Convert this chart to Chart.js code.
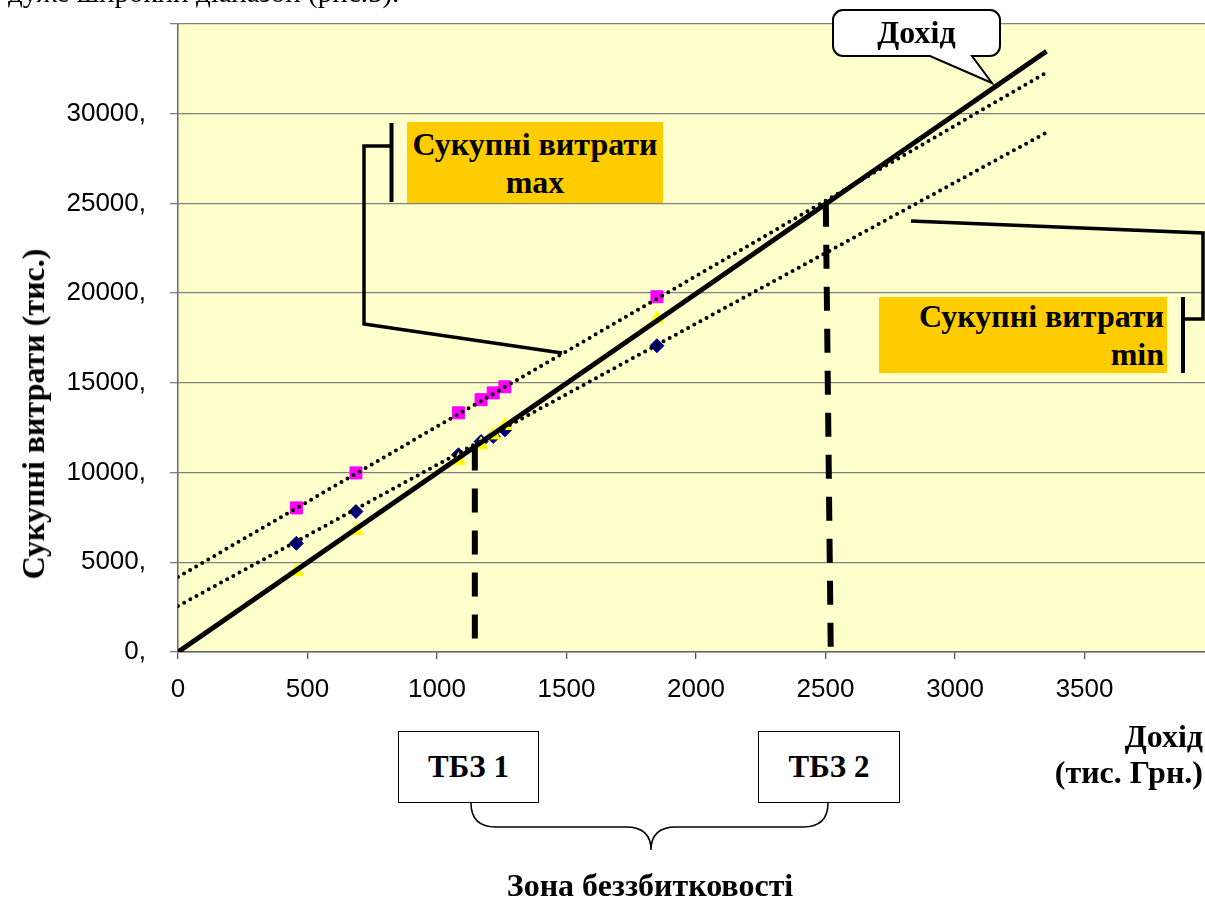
<!DOCTYPE html>
<html>
<head>
<meta charset="utf-8">
<script src="https://cdn.jsdelivr.net/npm/chart.js@4.4.1/dist/chart.umd.min.js"></script>
<style>
  html, body { margin: 0; padding: 0; background: #fff; overflow: hidden; }
  #wrap { position: relative; width: 1205px; height: 902px; }
  #chart { position: absolute; left: 0; top: 0; }
  .t { position: absolute; font-family: "Liberation Serif", "Times New Roman", serif; font-weight: bold; font-size: 32px; color: #000; white-space: nowrap; line-height: 38px; }
  .box { position: absolute; background: #FFCC00; display: flex; flex-direction: column; justify-content: center; }
  .tbz { position: absolute; background: #fff; border: 1.5px solid #000; box-sizing: border-box; display: flex; align-items: center; justify-content: center; }
</style>
</head>
<body>
<div id="wrap">
  <canvas id="chart" width="1205" height="902"></canvas>

  <div class="t" style="left:8px; top:-27px; font-weight:normal; font-size:29px;">дуже широкий діапазон (рис.5).</div>

  <div class="t" style="left:833px; top:13px; width:167px; text-align:center;">Дохід</div>

  <div class="box t" style="left:407px; top:122px; width:256px; height:81px; text-align:center;">
    <div>Сукупні витрати</div><div>max</div>
  </div>
  <div class="box t" style="left:879px; top:297px; width:288px; height:76px; text-align:right;">
    <div style="padding-right:3px;">Сукупні витрати</div><div style="padding-right:3px;">min</div>
  </div>

  <div class="tbz t" style="left:398px; top:731px; width:141px; height:72px; font-size:31px;">ТБЗ 1</div>
  <div class="tbz t" style="left:758px; top:731px; width:142px; height:72px; font-size:31px;">ТБЗ 2</div>

  <div class="t" style="left:650px; top:866px; transform:translateX(-50%);">Зона беззбитковості</div>

  <div class="t" style="right:2px; top:718px; text-align:right; line-height:36px;">Дохід<br>(тис. Грн.)</div>

  <div class="t" style="left:33px; top:414px; transform:translate(-50%,-50%) rotate(-90deg);">Сукупні витрати (тис.)</div>
</div>

<script>
// Дохід (тис. грн) for the observed periods
const revenueX = [457, 687, 1083, 1170, 1217, 1262, 1849];
// total costs, max variant (magenta squares)
const costMax = [8030, 9980, 13330, 14060, 14440, 14780, 19800];
// total costs, min variant (navy diamonds)
const costMin = [6060, 7830, 10990, 11730, 12010, 12380, 17070];
// revenue points (yellow triangles)
const revenueY = [4480, 6770, 10670, 11545, 12100, 12620, 18560];

// line "Дохід"
const incomeLineX = [0, 3353];
const incomeLineY = [0, 33480];
// trend lines of costs
const trendMaxX = [0, 3353];
const trendMaxY = [4180, 32300];
const trendMinX = [0, 3353];
const trendMinY = [2560, 28950];
// break-even points (ТБЗ 1, ТБЗ 2) vertical marks
const tbz1X = [1146, 1146];
const tbz1Y = [11450, 700];
const tbz2X = [2501, 2520];
const tbz2Y = [25040, 220];

const xTicks = [0, 500, 1000, 1500, 2000, 2500, 3000, 3500];
const yTicks = [0, 5000, 10000, 15000, 20000, 25000, 30000];

const pts = (xs, ys) => xs.map((x, i) => ({ x: x, y: ys[i] }));

const plotBg = {
  id: 'plotBg',
  beforeDraw(c) {
    const { ctx, chartArea: a } = c;
    ctx.save();
    ctx.fillStyle = '#FFFFCC';
    ctx.fillRect(a.left, a.top, a.right - a.left, a.bottom - a.top);
    ctx.restore();
  }
};

// callouts: brackets, speech bubble, brace
const callouts = {
  id: 'callouts',
  afterDraw(c) {
    const ctx = c.ctx;
    ctx.save();
    ctx.strokeStyle = '#000';
    ctx.lineJoin = 'miter';

    // bracket for max costs
    ctx.lineWidth = 4;
    ctx.beginPath(); ctx.moveTo(391.5, 123); ctx.lineTo(391.5, 202); ctx.stroke();
    ctx.lineWidth = 3.5;
    ctx.beginPath();
    ctx.moveTo(391, 146); ctx.lineTo(364, 146); ctx.lineTo(364, 324); ctx.lineTo(562, 353);
    ctx.stroke();

    // bracket for min costs
    ctx.lineWidth = 4;
    ctx.beginPath(); ctx.moveTo(1183, 297); ctx.lineTo(1183, 373); ctx.stroke();
    ctx.lineWidth = 3.5;
    ctx.beginPath();
    ctx.moveTo(1183, 319); ctx.lineTo(1203, 319); ctx.lineTo(1203, 233); ctx.lineTo(911, 221);
    ctx.stroke();

    // speech bubble "Дохід"
    const l = 833, r = 1000, t = 10, b = 56, rad = 10;
    ctx.beginPath();
    ctx.moveTo(l + rad, t);
    ctx.lineTo(r - rad, t);
    ctx.arcTo(r, t, r, t + rad, rad);
    ctx.lineTo(r, b - rad);
    ctx.arcTo(r, b, r - rad, b, rad);
    ctx.lineTo(972, b);
    ctx.lineTo(992, 83);
    ctx.lineTo(930, b);
    ctx.lineTo(l + rad, b);
    ctx.arcTo(l, b, l, b - rad, rad);
    ctx.lineTo(l, t + rad);
    ctx.arcTo(l, t, l + rad, t, rad);
    ctx.closePath();
    ctx.fillStyle = '#fff';
    ctx.fill();
    ctx.lineWidth = 2;
    ctx.stroke();

    // brace under ТБЗ boxes
    ctx.lineWidth = 1.5;
    ctx.beginPath();
    ctx.moveTo(471, 803);
    ctx.quadraticCurveTo(471, 827, 496, 827);
    ctx.lineTo(626, 827);
    ctx.quadraticCurveTo(651, 827, 651, 850);
    ctx.quadraticCurveTo(651, 827, 676, 827);
    ctx.lineTo(803, 827);
    ctx.quadraticCurveTo(828, 827, 828, 803);
    ctx.stroke();
    ctx.restore();
  }
};

const dotted = {
  showLine: true, pointRadius: 0, borderColor: '#000', borderWidth: 4,
  borderDash: [0, 7], borderCapStyle: 'round', order: 1
};
const dashed = {
  showLine: true, pointRadius: 0, borderColor: '#000', borderWidth: 6,
  borderDash: [24, 18], borderCapStyle: 'butt', order: 3
};

new Chart(document.getElementById('chart'), {
  type: 'scatter',
  data: {
    datasets: [
      Object.assign({ label: 'Тренд max', data: pts(trendMaxX, trendMaxY) }, dotted),
      Object.assign({ label: 'Тренд min', data: pts(trendMinX, trendMinY) }, dotted),
      { label: 'Дохід', data: pts(incomeLineX, incomeLineY), showLine: true, pointRadius: 0,
        borderColor: '#000', borderWidth: 5, order: 2 },
      Object.assign({ label: 'ТБЗ 1', data: pts(tbz1X, tbz1Y) }, dashed),
      Object.assign({ label: 'ТБЗ 2', data: pts(tbz2X, tbz2Y) }, dashed),
      { label: 'Дохід (точки)', data: pts(revenueX, revenueY), pointStyle: 'triangle', pointRadius: 8,
        backgroundColor: '#FFFF00', borderColor: '#FFFF00', borderWidth: 1, order: 4 },
      { label: 'Сукупні витрати min', data: pts(revenueX, costMin), pointStyle: 'rectRot', pointRadius: 7,
        backgroundColor: '#000080', borderColor: '#000080', borderWidth: 1, order: 5 },
      { label: 'Сукупні витрати max', data: pts(revenueX, costMax), pointStyle: 'rect', pointRadius: 8.5,
        backgroundColor: '#FF00FF', borderColor: '#FF00FF', borderWidth: 1, order: 6 }
    ]
  },
  options: {
    responsive: false,
    animation: false,
    layout: { padding: { top: 24, right: 0, bottom: 0, left: 0 }, autoPadding: false },
    plugins: { legend: { display: false }, tooltip: { enabled: false } },
    scales: {
      x: {
        type: 'linear', min: 0, max: 3965,
        afterBuildTicks: s => { s.ticks = xTicks.map(v => ({ value: v })); },
        afterFit: s => { s.height = 250; s.paddingLeft = 0; s.paddingRight = 0; },
        ticks: { color: '#000', padding: 15, maxRotation: 0,
          font: { family: 'Liberation Sans', size: 26 }, callback: v => String(v) },
        grid: { drawOnChartArea: false, drawTicks: true, tickLength: 7, color: '#555', lineWidth: 1.3 },
        border: { color: '#666', width: 1.5 }
      },
      y: {
        type: 'linear', min: 0, max: 35000,
        afterBuildTicks: s => { s.ticks = yTicks.concat([35000]).map(v => ({ value: v })); },
        afterFit: s => { s.width = 178; s.paddingTop = 0; s.paddingBottom = 0; },
        ticks: { color: '#000', padding: 24,
          font: { family: 'Liberation Sans', size: 26 },
          callback: v => (yTicks.includes(v) ? v + ',' : '') },
        grid: { color: '#808080', lineWidth: 1.3, tickLength: 8 },
        border: { color: '#666', width: 1.5 }
      }
    }
  },
  plugins: [plotBg, callouts]
});
</script>
</body>
</html>
